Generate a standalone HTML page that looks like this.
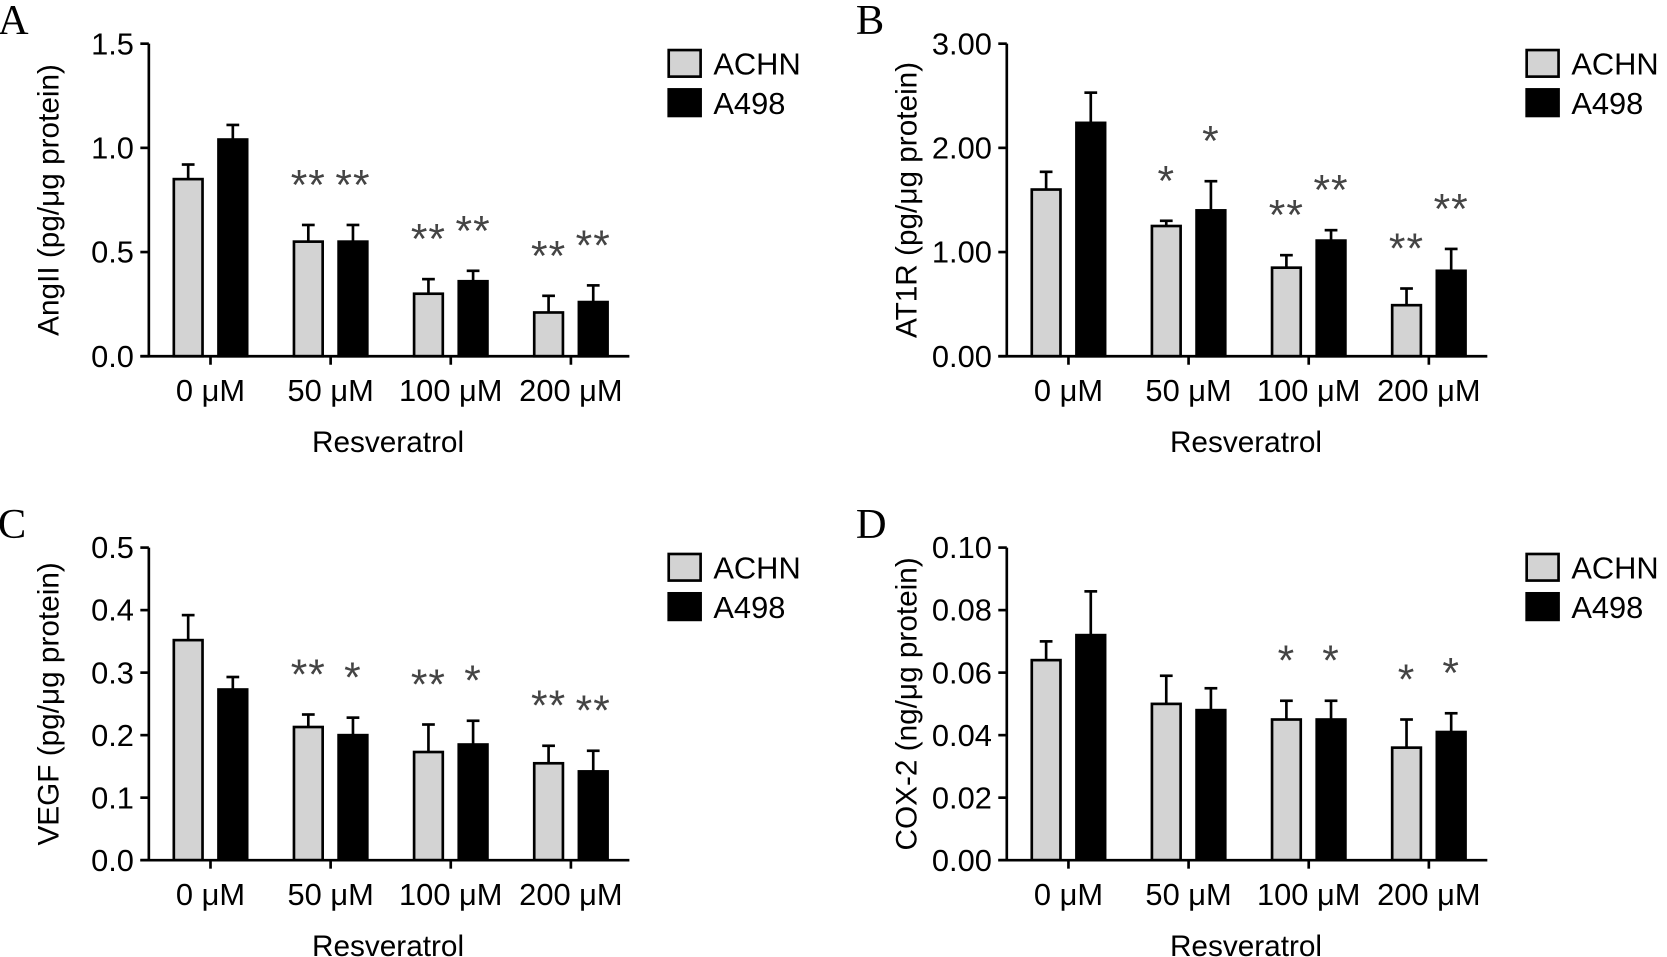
<!DOCTYPE html>
<html><head><meta charset="utf-8"><style>
html,body{margin:0;padding:0;background:#fff;}
svg{display:block;font-family:"Liberation Sans",Arial,sans-serif;}
</style></head><body>
<svg id="fig" width="1667" height="957" viewBox="0 0 1568 900" xmlns="http://www.w3.org/2000/svg"></svg>
<script>
const categories = ["0 \u03bcM","50 \u03bcM","100 \u03bcM","200 \u03bcM"];
const seriesNames = ["ACHN","A498"];
const aAchn = [0.85,0.55,0.30,0.21], aAchnErr=[0.07,0.08,0.07,0.08];
const aA498 = [1.04,0.55,0.36,0.26], aA498Err=[0.07,0.08,0.05,0.08];
const aStars = [["",""],["**","**"],["**","**"],["**","**"]];
const aTicks = ["0.0","0.5","1.0","1.5"];
const bAchn = [1.60,1.25,0.85,0.49], bAchnErr=[0.17,0.05,0.12,0.16];
const bA498 = [2.24,1.40,1.11,0.82], bA498Err=[0.29,0.28,0.10,0.21];
const bStars = [["",""],["*","*"],["**","**"],["**","**"]];
const bTicks = ["0.00","1.00","2.00","3.00"];
const cAchn = [0.352,0.213,0.173,0.155], cAchnErr=[0.040,0.020,0.044,0.028];
const cA498 = [0.273,0.200,0.185,0.142], cA498Err=[0.020,0.028,0.038,0.033];
const cStars = [["",""],["**","*"],["**","*"],["**","**"]];
const cTicks = ["0.0","0.1","0.2","0.3","0.4","0.5"];
const dAchn = [0.064,0.050,0.045,0.036], dAchnErr=[0.006,0.009,0.006,0.009];
const dA498 = [0.072,0.048,0.045,0.041], dA498Err=[0.014,0.007,0.006,0.006];
const dStars = [["",""],["",""],["*","*"],["*","*"]];
const dTicks = ["0.00","0.02","0.04","0.06","0.08","0.10"];

const NS="http://www.w3.org/2000/svg";
const svg=document.getElementById('fig');
function mk(tag,attrs,parent,text){const e=document.createElementNS(NS,tag);for(const k in attrs)e.setAttribute(k,attrs[k]);if(text!==undefined)e.textContent=text;parent.appendChild(e);return e;}

function panel(id,ox,oy,letter,ytitle,ticks,ymax,achn,achnErr,a498,a498Err,stars){
  const g=mk('g',{},svg);
  
  
  const ax=ox+140, top=oy+41, bot=oy+335, h=bot-top;
  const y=v=>bot-v/ymax*h;
  const gx=i=>ax+58+i*113;
  const lt=mk('text',{x:ox-2,y:oy+32,'font-family':'Liberation Serif,serif','font-size':40},g,letter);
  
  for(let i=0;i<categories.length;i++){
    const sets=[[achn,achnErr,'#d3d3d3',-1],[a498,a498Err,'#000',1]];
    sets.forEach((s,j)=>{
      const cx=gx(i)+s[3]*21, w=27;
      const top_=y(s[0][i]), et=y(s[0][i]+s[1][i]);
      const ln=mk('line',{x1:cx,x2:cx,y1:top_,y2:et,stroke:'#000','stroke-width':2.5},g);
      
      mk('line',{x1:cx-6,x2:cx+6,y1:et,y2:et,stroke:'#000','stroke-width':2.5},g);
      const r=mk('rect',{x:cx-w/2,y:top_,width:w,height:bot-top_,fill:s[2],stroke:'#000','stroke-width':2.5},g);
      
      if(stars[i][j]){const t=mk('text',{x:cx,y:et-24,'text-anchor':'middle','font-size':40,fill:'#444','letter-spacing':1},g,stars[i][j]);
        }
    });
    mk('line',{x1:gx(i),x2:gx(i),y1:bot,y2:bot+8,stroke:'#000','stroke-width':2.5},g);
    const xl=mk('text',{x:gx(i),y:bot+42,'text-anchor':'middle','font-size':29},g,categories[i]);
    
  }
  const ya=mk('line',{x1:ax,x2:ax,y1:top,y2:bot,stroke:'#000','stroke-width':2.5},g);
  
  const xa=mk('line',{x1:ax-8,x2:ax+452,y1:bot,y2:bot,stroke:'#000','stroke-width':2.5},g);
  
  ticks.forEach((t,k)=>{const v=k*ymax/(ticks.length-1);
    mk('line',{x1:ax-8,x2:ax,y1:y(v),y2:y(v),stroke:'#000','stroke-width':2.5},g);
    const tl=mk('text',{x:ax-14,y:y(v)+10,'text-anchor':'end','font-size':29},g,t);
    });
  const yt=mk('text',{x:0,y:0,'text-anchor':'middle','font-size':28,transform:`translate(${ox+55},${(top+bot)/2}) rotate(-90)`},g,ytitle);
  
  const xt=mk('text',{x:ax+225,y:bot+90,'text-anchor':'middle','font-size':28},g,'Resveratrol');
  
  seriesNames.forEach((n,j)=>{
    const ly=oy+47+j*37;
    const lr=mk('rect',{x:ox+629,y:ly,width:30,height:25,fill:j?'#000':'#d3d3d3',stroke:'#000','stroke-width':2.5},g);
    
    const lt2=mk('text',{x:ox+671,y:ly+23,'font-size':29},g,n);
    
  });
}
panel('a',0,0,'A','AngII (pg/\u03bcg protein)',aTicks,1.5,aAchn,aAchnErr,aA498,aA498Err,aStars);
panel('b',807,0,'B','AT1R (pg/\u03bcg protein)',bTicks,3,bAchn,bAchnErr,bA498,bA498Err,bStars);
panel('c',0,474,'C','VEGF (pg/\u03bcg protein)',cTicks,0.5,cAchn,cAchnErr,cA498,cA498Err,cStars);
panel('d',807,474,'D','COX-2 (ng/\u03bcg protein)',dTicks,0.1,dAchn,dAchnErr,dA498,dA498Err,dStars);
</script>
</body></html>
